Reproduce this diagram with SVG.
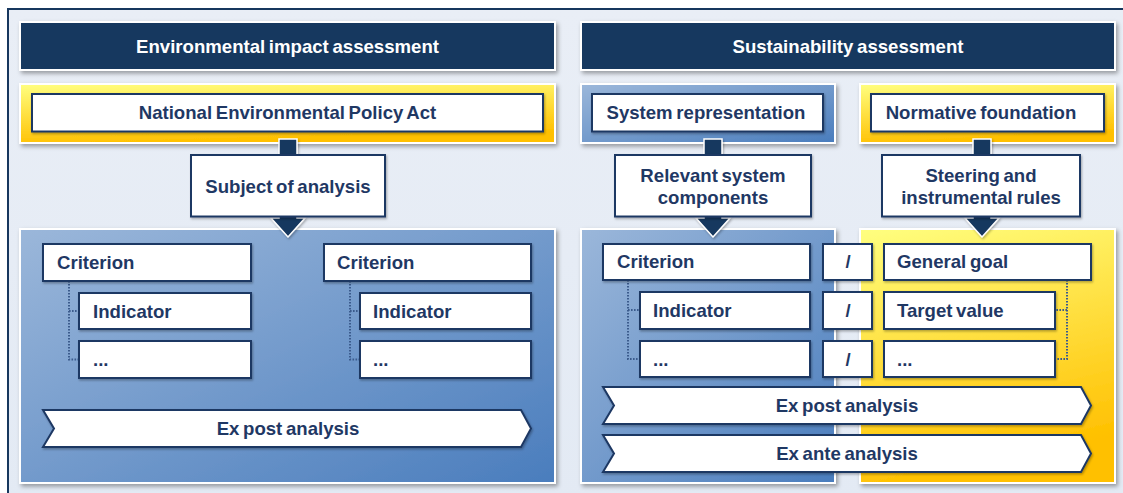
<svg xmlns="http://www.w3.org/2000/svg" width="1123" height="493" viewBox="0 0 1123 493">
<defs>
<linearGradient id="gBlue" x1="0" y1="0" x2="1" y2="1">
<stop offset="0" stop-color="#9bb7da"/>
<stop offset="1" stop-color="#4a7dbd"/>
</linearGradient>
<linearGradient id="gYellow" x1="0" y1="0" x2="0.25" y2="1">
<stop offset="0" stop-color="#ffff80"/>
<stop offset="1" stop-color="#ffc000"/>
</linearGradient>
<linearGradient id="gFrame" x1="0" y1="0" x2="0" y2="1">
<stop offset="0" stop-color="#e9eef6"/>
<stop offset="1" stop-color="#e3eaf4"/>
</linearGradient>
<filter id="sh" x="-10%" y="-10%" width="125%" height="130%">
<feDropShadow dx="2" dy="2.5" stdDeviation="2" flood-color="#000" flood-opacity="0.35"/>
</filter>
<filter id="shs" x="-10%" y="-10%" width="125%" height="140%">
<feDropShadow dx="1" dy="1.5" stdDeviation="1.2" flood-color="#000" flood-opacity="0.3"/>
</filter>
</defs>
<style>
.hdr{fill:#17375e;stroke:#ffffff;stroke-width:2;filter:url(#sh)}
.panelB{fill:url(#gBlue);stroke:#ffffff;stroke-width:2;filter:url(#sh)}
.panelY{fill:url(#gYellow);stroke:#ffffff;stroke-width:2;filter:url(#sh)}
.box{fill:#ffffff;stroke:#1f3864;stroke-width:2;filter:url(#shs)}
.t{font-family:"Liberation Sans",Arial,sans-serif;font-weight:bold;font-size:18.6px;fill:#1f3864;word-spacing:-1.5px}
.th{font-family:"Liberation Sans",Arial,sans-serif;font-weight:bold;font-size:18.6px;fill:#ffffff;word-spacing:-1.5px}
.c{text-anchor:middle}
.arrow{fill:#17375e;stroke:#ffffff;stroke-width:1.5;filter:url(#shs)}
.dot{fill:none;stroke:#3b5b8c;stroke-width:2;stroke-dasharray:1.6 1.4}
</style>

<rect x="0" y="0" width="1123" height="493" fill="#ffffff"/>
<rect id="frame" x="8" y="9" width="1125" height="494" fill="url(#gFrame)" stroke="#17375e" stroke-width="2"/>

<g id="header-eia">
<rect class="hdr" x="20" y="22" width="535" height="48"/>
<text class="th c" x="287.5" y="53">Environmental impact assessment</text>
</g>
<g id="header-sa">
<rect class="hdr" x="581" y="22" width="534" height="48"/>
<text class="th c" x="848" y="53">Sustainability assessment</text>
</g>

<g id="panels">
<rect id="nepa-band" class="panelY" x="20" y="84" width="535" height="59"/>
<rect id="sysrep-band" class="panelB" x="581" y="84" width="254" height="59"/>
<rect id="norm-band" class="panelY" x="860" y="84" width="255" height="59"/>
<rect id="eia-panel" class="panelB" x="20" y="229" width="535" height="254"/>
<rect id="sa-blue-panel" class="panelB" x="581" y="229" width="254" height="254"/>
<rect id="sa-yellow-panel" class="panelY" x="860" y="229" width="255" height="254"/>
</g>

<g id="connectors">
<polygon class="arrow" points="279,139 297,139 297,218 305,218 288,237 271,218 279,218"/>
<polygon class="arrow" points="704,139 722,139 722,218 730,218 713,237 696,218 704,218"/>
<polygon class="arrow" points="973,139 991,139 991,218 999,218 982,237 965,218 973,218"/>
<path class="dot" d="M69,281 V359.5 H79 M69,311 H79"/>
<path class="dot" d="M350,281 V359.5 H360 M350,311 H360"/>
<path class="dot" d="M628,280 V359 H640 M628,310 H640"/>
<path class="dot" d="M1067,280 V359 H1055 M1067,310 H1055"/>
</g>

<g id="nepa">
<rect class="box" x="32" y="94" width="511" height="37.5"/>
<text class="t c" x="287.5" y="119">National Environmental Policy Act</text>
</g>
<g id="subject">
<rect class="box" x="191" y="155" width="194" height="61.5"/>
<text class="t c" x="288" y="193">Subject of analysis</text>
</g>

<g id="crit1">
<rect class="box" x="43" y="244" width="208" height="37"/>
<text class="t" x="57" y="269">Criterion</text>
</g>
<g id="ind1">
<rect class="box" x="79" y="293" width="172" height="36"/>
<text class="t" x="93" y="318">Indicator</text>
</g>
<g id="etc1">
<rect class="box" x="79" y="341" width="172" height="37"/>
<text class="t" x="93" y="366">...</text>
</g>
<g id="crit2">
<rect class="box" x="324" y="244" width="207" height="37"/>
<text class="t" x="337" y="269">Criterion</text>
</g>
<g id="ind2">
<rect class="box" x="360" y="293" width="171" height="36"/>
<text class="t" x="373" y="318">Indicator</text>
</g>
<g id="etc2">
<rect class="box" x="360" y="341" width="171" height="37"/>
<text class="t" x="373" y="366">...</text>
</g>
<g id="expost1">
<polygon class="box" points="43,410 521,410 531,428.5 521,447 43,447 54,428.5"/>
<text class="t c" x="288" y="435">Ex post analysis</text>
</g>

<g id="sysrep">
<rect class="box" x="592" y="94" width="231" height="37.5"/>
<text class="t c" x="706" y="119">System representation</text>
</g>
<g id="normfound">
<rect class="box" x="871" y="94" width="233" height="37.5"/>
<text class="t c" x="981" y="119">Normative foundation</text>
</g>
<g id="relevant">
<rect class="box" x="615" y="155" width="196" height="61.5"/>
<text class="t c" x="713" y="182">Relevant system</text>
<text class="t c" x="713" y="204">components</text>
</g>
<g id="steering">
<rect class="box" x="882" y="155" width="198" height="61.5"/>
<text class="t c" x="981" y="182">Steering and</text>
<text class="t c" x="981" y="204">instrumental rules</text>
</g>

<g id="crit3">
<rect class="box" x="603" y="244" width="207" height="36"/>
<text class="t" x="617" y="268">Criterion</text>
</g>
<g id="ind3">
<rect class="box" x="640" y="292" width="170" height="37"/>
<text class="t" x="653" y="317">Indicator</text>
</g>
<g id="etc3">
<rect class="box" x="640" y="341" width="170" height="36"/>
<text class="t" x="653" y="366">...</text>
</g>
<g id="slash1">
<rect class="box" x="823" y="244" width="49" height="36"/>
<text class="t c" x="848" y="268">/</text>
</g>
<g id="slash2">
<rect class="box" x="823" y="292" width="49" height="37"/>
<text class="t c" x="848" y="317">/</text>
</g>
<g id="slash3">
<rect class="box" x="823" y="341" width="49" height="36"/>
<text class="t c" x="848" y="366">/</text>
</g>
<g id="goal">
<rect class="box" x="884" y="244" width="207" height="36"/>
<text class="t" x="897" y="268">General goal</text>
</g>
<g id="target">
<rect class="box" x="884" y="292" width="171" height="37"/>
<text class="t" x="897" y="317">Target value</text>
</g>
<g id="etc4">
<rect class="box" x="884" y="341" width="171" height="36"/>
<text class="t" x="897" y="366">...</text>
</g>
<g id="expost2">
<polygon class="box" points="603,387 1081,387 1091,405.5 1081,424 603,424 614,405.5"/>
<text class="t c" x="847" y="412">Ex post analysis</text>
</g>
<g id="exante">
<polygon class="box" points="603,435 1081,435 1091,453.5 1081,472 603,472 614,453.5"/>
<text class="t c" x="847" y="460">Ex ante analysis</text>
</g>
</svg>
